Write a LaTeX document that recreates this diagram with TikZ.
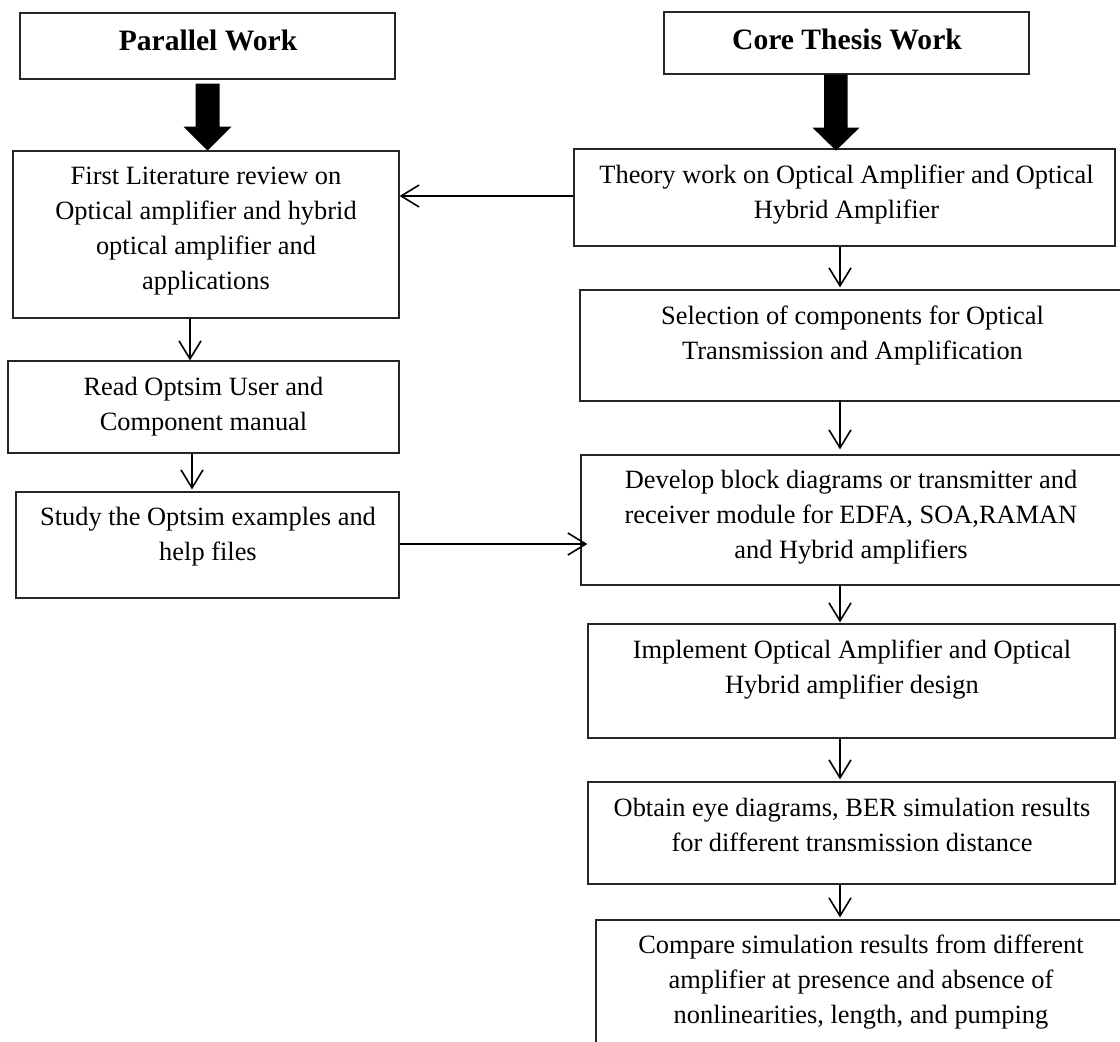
\documentclass[tikz,border=0pt]{standalone}
\usepackage{fontspec}
\setmainfont{Liberation Serif}
\usetikzlibrary{arrows.meta,calc}
\begin{document}
\begin{tikzpicture}[x=0.5pt,y=-0.5pt,
  box/.style={draw=black!85, line width=0.6pt, rectangle, inner sep=0pt},
  txt/.style={align=center, inner sep=0pt, font=\fontsize{13.2}{17.5}\selectfont},
  ttl/.style={inner sep=0pt, anchor=base, font=\fontsize{14.8}{17}\selectfont\bfseries},
  arr/.style={line width=0.8pt, -{Straight Barb[length=9pt,width=11pt]}},
  fat/.style={fill=black}]
\useasboundingbox (0,0) rectangle (1120,1041);
\clip (0,0) rectangle (1120,1041);
% boxes
\node[box, minimum width=187.5pt, minimum height=33pt]   (pw)     at (207.5,46) {};
\node[box, minimum width=182.5pt, minimum height=31pt]   (core)   at (846.5,43) {};
\node[box, minimum width=193pt,   minimum height=83.5pt] (lit)    at (206,234.5) {};
\node[box, minimum width=270.5pt, minimum height=48.5pt] (theory) at (844.5,197.5) {};
\node[box, minimum width=195.5pt, minimum height=46pt]   (read)   at (203.5,407) {};
\node[box, minimum width=191.5pt, minimum height=53pt]   (study)  at (207.5,545) {};
\node[box, minimum width=277.5pt, minimum height=55.5pt] (sel)    at (857.5,345.5) {};
\node[box, minimum width=277pt,   minimum height=65pt]   (dev)    at (858,520) {};
\node[box, minimum width=263.5pt, minimum height=57pt]   (impl)   at (851.5,681) {};
\node[box, minimum width=263.5pt, minimum height=51pt]   (obt)    at (851.5,833) {};
\node[box, minimum width=269.5pt, minimum height=70pt]   (cmp)    at (865.5,990) {};
% texts
\node[ttl] (pw-t)   at (208,50) {Parallel Work};
\node[ttl] (core-t) at (847,49) {Core Thesis Work};
\node[txt] (lit-t)    at (206,231.5)   {First Literature review on\\Optical amplifier and hybrid\\optical amplifier and\\applications};
\node[txt] (theory-t) at (846.5,195) {Theory work on Optical Amplifier and Optical\\Hybrid Amplifier};
\node[txt] (read-t)   at (203.5,407) {Read Optsim User and\\Component manual};
\node[txt] (study-t)  at (208,537) {Study the Optsim examples and\\help files};
\node[txt] (sel-t)    at (852.5,336) {Selection of components for Optical\\Transmission and Amplification};
\node[txt] (dev-t)    at (851,517.5) {Develop block diagrams or transmitter and\\receiver module for EDFA, SOA,RAMAN\\and Hybrid amplifiers};
\node[txt] (impl-t)   at (852,670) {Implement Optical Amplifier and Optical\\Hybrid amplifier design};
\node[txt] (obt-t)    at (852,825) {Obtain eye diagrams, BER simulation results\\for different transmission distance};
\node[txt] (cmp-t)    at (861,982.5) {Compare simulation results from different\\amplifier at presence and absence of\\nonlinearities, length, and pumping};
% thick arrows
\fill[fat] ($(pw.south)+(-12,4)$) -- ($(pw.south)+(12,4)$) -- ($(pw.south)+(12,47)$) -- ($(pw.south)+(24,47)$)
  -- ($(pw.south)+(0,71)$) -- ($(pw.south)+(-24,47)$) -- ($(pw.south)+(-12,47)$) -- cycle;
\fill[fat] ($(core.south)+(-22.5,0)$) -- ($(core.south)+(1,0)$) -- ($(core.south)+(1,53)$) -- ($(core.south)+(13,53)$)
  -- ($(core.south)+(-10.5,76)$) -- ($(core.south)+(-34,53)$) -- ($(core.south)+(-22.5,53)$) -- cycle;
% column guides
\coordinate (xr) at (840,0);
\coordinate (xa) at (190,0);
\coordinate (xb) at (192,0);
% connectors
\draw[arr] (theory.west |- 0,196) -- (lit.east |- 0,196);
\draw[arr, shorten >=-3.5pt] (study.east |- 0,544) -- (dev.west |- 0,544);
\draw[arr] (lit.south -| xa) -- (read.north -| xa);
\draw[arr] (read.south -| xb) -- ($(study.north -| xb)+(0,-2)$);
\draw[arr] (theory.south -| xr) -- ($(sel.north -| xr)+(0,-2)$);
\draw[arr] ($(sel.south -| xr)+(0,-2)$) -- ($(dev.north -| xr)+(0,-5)$);
\draw[arr] (dev.south -| xr) -- ($(impl.north -| xr)+(0,-1)$);
\draw[arr] (impl.south -| xr) -- ($(obt.north -| xr)+(0,-2)$);
\draw[arr] (obt.south -| xr) -- ($(cmp.north -| xr)+(0,-2)$);
\end{tikzpicture}
\end{document}
